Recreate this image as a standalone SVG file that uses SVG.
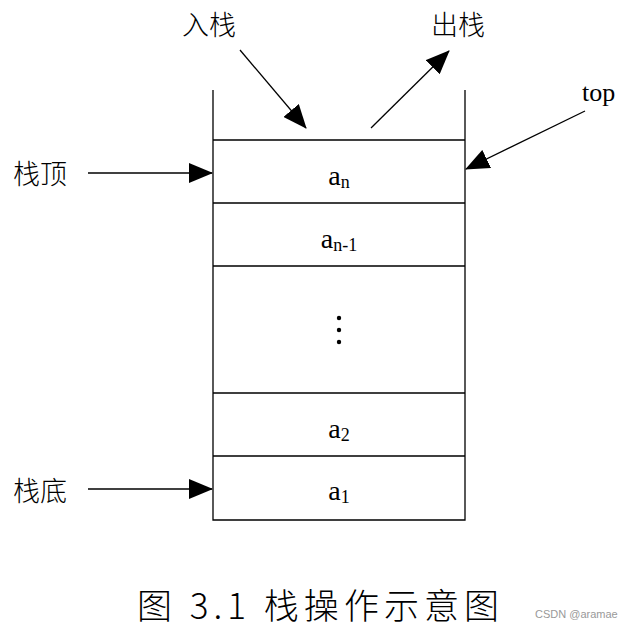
<svg xmlns="http://www.w3.org/2000/svg" width="636" height="627" viewBox="0 0 636 627">
<style>
.l{stroke:#000;stroke-width:1.3;fill:none}
.t{font-family:"Liberation Serif","Noto Sans CJK SC",serif;fill:#000}
.c{font-family:"Noto Sans CJK SC",sans-serif;fill:#000;font-size:27px;font-weight:300}
</style>
<defs>
<marker id="b" markerWidth="24" markerHeight="20" refX="23" refY="10" orient="auto" markerUnits="userSpaceOnUse" viewBox="0 0 24 20"><path d="M0,0L24,10L0,20z" fill="#000"/></marker></defs>
<rect width="636" height="627" fill="#fff"/>
<g id="stack">
<path class="l" d="M213,90V520H465V90M213,140H465M213,203H465M213,266H465M213,393H465M213,456H465"/>
<text class="t" x="339" y="185" font-size="28" text-anchor="middle">a<tspan font-size="18" dy="3">n</tspan></text>
<text class="t" x="339" y="248" font-size="28" text-anchor="middle">a<tspan font-size="18" dy="3">n-1</tspan></text>
<circle cx="339" cy="318" r="2.2"/><circle cx="339" cy="330" r="2.2"/><circle cx="339" cy="342" r="2.2"/>
<text class="t" x="339" y="438" font-size="28" text-anchor="middle">a<tspan font-size="18" dy="3">2</tspan></text>
<text class="t" x="339" y="500" font-size="28" text-anchor="middle">a<tspan font-size="18" dy="3">1</tspan></text>
</g>
<g id="labels">
<text class="c" x="182" y="35">入栈</text>
<text class="c" x="431" y="35">出栈</text>
<text class="t" x="582" y="101" font-size="26">top</text>
<text class="c" x="13" y="184">栈顶</text>
<text class="c" x="13" y="501">栈底</text>
<text x="137" y="619" font-size="35" font-weight="300" textLength="362" lengthAdjust="spacing" font-family="'Noto Sans CJK SC',serif">图 3.1 栈操作示意图</text>
<text x="535" y="618" font-size="11" fill="#999" font-family="Liberation Sans,sans-serif">CSDN @aramae</text>
</g>
<g id="connectors">
<line class="l" x1="240" y1="50" x2="306" y2="128" marker-end="url(#b)"/>
<line class="l" x1="371" y1="128" x2="449" y2="51" marker-end="url(#b)"/>
<line class="l" x1="585" y1="111" x2="466" y2="169" marker-end="url(#b)"/>
<line class="l" x1="88" y1="173" x2="212" y2="173" marker-end="url(#b)"/>
<line class="l" x1="88" y1="489" x2="212" y2="489" marker-end="url(#b)"/>
</g>
</svg>
